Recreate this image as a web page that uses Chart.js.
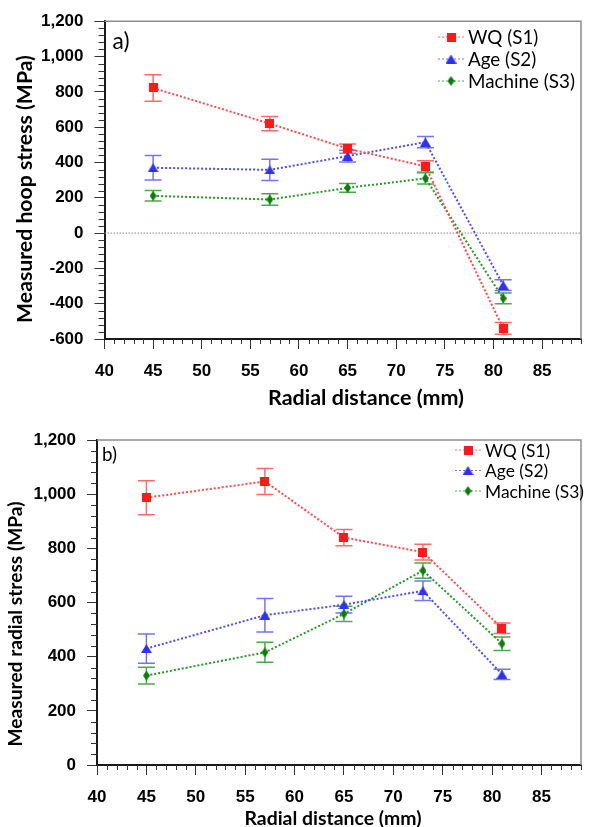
<!DOCTYPE html>
<html>
<head>
<meta charset="utf-8">
<script src="https://cdn.jsdelivr.net/npm/chart.js@4.4.0/dist/chart.umd.min.js"></script>
<style>
  body { margin: 0; background: #fff; }
  canvas { display: block; }
</style>
</head>
<body>
<canvas id="hoopChart" width="589" height="410"></canvas>
<canvas id="radialChart" width="589" height="417"></canvas>
<script>
// radial positions of the measurements (mm)
var radialDistance = [45, 57, 65, 73, 81];

// a) hoop stress (MPa) and error half-widths
var wqHoop = [822, 620, 478, 378, -540];
var wqHoopErr = [75, 40, 26, 32, 33];
var ageHoop = [370, 358, 436, 515, -295];
var ageHoopErr = [70, 60, 33, 32, 30];
var machineHoop = [211, 190, 256, 310, -370];
var machineHoopErr = [30, 32, 25, 32, 30];

// b) radial stress (MPa) and error half-widths
var wqRadial = [987, 1047, 840, 786, 505];
var wqRadialErr = [63, 48, 30, 29, 19];
var ageRadial = [430, 553, 592, 643, 335];
var ageRadialErr = [54, 62, 31, 36, 19];
var machineRadial = [330, 416, 558, 718, 448];
var machineRadialErr = [31, 37, 28, 28, 25];

var seriesNames = ['WQ (S1)', 'Age (S2)', 'Machine (S3)'];

var tickFont = "'Liberation Sans', Arial, sans-serif";
var titleFont = "Lato, 'Open Sans', sans-serif";

// font size that makes a text take a given width
var measureCtx = document.createElement('canvas').getContext('2d');
function fitSize(text, weight, width) {
  measureCtx.font = weight + ' 100px ' + titleFont;
  return 100 * width / measureCtx.measureText(text).width;
}

function makeMarker(kind, fill) {
  var c = document.createElement('canvas');
  var w = 9, h = 9;
  if (kind === 'tri') { w = 11; h = 9; }
  if (kind === 'diamond') { w = 7; h = 10; }
  c.width = w; c.height = h;
  var g = c.getContext('2d');
  g.fillStyle = fill;
  g.beginPath();
  if (kind === 'square') {
    g.rect(0, 0, w, h);
  } else if (kind === 'tri') {
    g.moveTo(w / 2, 0); g.lineTo(w, h); g.lineTo(0, h);
  } else {
    g.moveTo(w / 2, 0); g.lineTo(w, h / 2); g.lineTo(w / 2, h); g.lineTo(0, h / 2);
  }
  g.closePath();
  g.fill();
  return c;
}

var styles = [
  { line: '#ff4a4a', err: '#ff6b6b', marker: makeMarker('square', '#ff1a1a') },
  { line: '#4d4dff', err: '#7373ff', marker: makeMarker('tri', '#2f2fff') },
  { line: '#229a22', err: '#4fa84f', marker: makeMarker('diamond', '#0b7d0b') }
];

function makeDataset(i, values, errors) {
  return {
    label: seriesNames[i],
    data: radialDistance.map(function(x, k) { return { x: x, y: values[k] }; }),
    errors: errors,
    errColor: styles[i].err,
    borderColor: styles[i].line,
    backgroundColor: styles[i].line,
    borderWidth: 2,
    borderDash: [2, 2],
    pointStyle: styles[i].marker,
    pointRadius: 6,
    fill: false,
    tension: 0
  };
}

var errorBars = {
  id: 'errorBars',
  beforeDatasetsDraw: function(chart) {
    var ctx = chart.ctx, xs = chart.scales.x, ys = chart.scales.y;
    var area = chart.chartArea;
    ctx.save();
    // top and right frame
    ctx.strokeStyle = '#8c8c8c';
    ctx.lineWidth = 1.5;
    ctx.beginPath();
    ctx.moveTo(area.left, area.top); ctx.lineTo(area.right, area.top); ctx.lineTo(area.right, area.bottom);
    ctx.stroke();
    // zero line
    if (ys.min < 0) {
      var zy = ys.getPixelForValue(0);
      ctx.strokeStyle = '#8a8a8a';
      ctx.lineWidth = 1;
      ctx.setLineDash([1.5, 1.5]);
      ctx.beginPath();
      ctx.moveTo(area.left, zy); ctx.lineTo(area.right, zy);
      ctx.stroke();
      ctx.setLineDash([]);
    }
    chart.data.datasets.forEach(function(ds) {
      ctx.strokeStyle = ds.errColor;
      ctx.lineWidth = 1.5;
      ds.data.forEach(function(p, k) {
        var px = xs.getPixelForValue(p.x);
        var hi = ys.getPixelForValue(p.y + ds.errors[k]);
        var lo = ys.getPixelForValue(p.y - ds.errors[k]);
        ctx.beginPath();
        ctx.moveTo(px, hi); ctx.lineTo(px, lo);
        ctx.moveTo(px - 8.5, hi); ctx.lineTo(px + 8.5, hi);
        ctx.moveTo(px - 8.5, lo); ctx.lineTo(px + 8.5, lo);
        ctx.stroke();
      });
    });
    ctx.restore();
  }
};

var decorations = {
  id: 'decorations',
  afterDraw: function(chart, args, opts) {
    var ctx = chart.ctx, xs = chart.scales.x, ys = chart.scales.y;
    var area = chart.chartArea;
    ctx.save();
    // minor ticks
    ctx.strokeStyle = '#333';
    ctx.lineWidth = 1;
    ctx.beginPath();
    for (var v = xs.min; v <= xs.max; v += 1) {
      if (v % 5 === 0) continue;
      var px = Math.round(xs.getPixelForValue(v)) + 0.5;
      ctx.moveTo(px, area.bottom); ctx.lineTo(px, area.bottom + 5);
    }
    for (var w = ys.min; w <= ys.max; w += 40) {
      if (w % 200 === 0) continue;
      var py = Math.round(ys.getPixelForValue(w)) + 0.5;
      ctx.moveTo(area.left, py); ctx.lineTo(area.left - 6, py);
    }
    ctx.stroke();

    ctx.fillStyle = '#000';
    ctx.textBaseline = 'middle';

    // axis titles
    ctx.textAlign = 'center';
    ctx.font = 'bold ' + fitSize(opts.xTitle.text, 'bold', opts.xTitle.len).toFixed(2) + 'px ' + titleFont;
    ctx.fillText(opts.xTitle.text, opts.xTitle.cx, opts.xTitle.cy);
    ctx.save();
    ctx.translate(opts.yTitle.cx, opts.yTitle.cy);
    ctx.rotate(-Math.PI / 2);
    ctx.font = 'bold ' + fitSize(opts.yTitle.text, 'bold', opts.yTitle.len).toFixed(2) + 'px ' + titleFont;
    ctx.fillText(opts.yTitle.text, 0, 0);
    ctx.restore();

    // panel label
    ctx.textAlign = 'left';
    ctx.font = fitSize(opts.panel, 'normal', opts.panelWidth).toFixed(2) + 'px ' + titleFont;
    ctx.fillText(opts.panel, area.left + opts.panelDx, area.top + opts.panelDy);

    // legend
    ctx.font = fitSize('Machine (S3)', 'normal', opts.legendWidth).toFixed(2) + 'px ' + titleFont;
    chart.data.datasets.forEach(function(ds, i) {
      var y = opts.legendY + i * opts.legendGap;
      var x0 = opts.legendX;
      ctx.strokeStyle = ds.errColor;
      ctx.lineWidth = 1;
      ctx.setLineDash([2, 2]);
      ctx.beginPath();
      ctx.moveTo(x0, y); ctx.lineTo(x0 + 26, y);
      ctx.stroke();
      ctx.setLineDash([]);
      var m = ds.pointStyle;
      ctx.drawImage(m, x0 + 13 - m.width / 2, y - m.height / 2);
      ctx.fillStyle = '#000';
      ctx.fillText(ds.label, x0 + 30, y + 1);
    });
    ctx.restore();
  }
};

function makeScales(yMin, yMax, s) {
  return {
    x: {
      type: 'linear',
      min: 40,
      max: 89,
      ticks: {
        stepSize: 5,
        includeBounds: false,
        maxRotation: 0,
        color: '#000',
        padding: 12,
        font: { family: tickFont, size: 17, weight: 'bold' }
      },
      grid: { drawOnChartArea: false, tickLength: 10, color: '#333' },
      border: { color: '#1a1a1a', width: 2 },
      afterFit: function(scale) { scale.height = s.xHeight; }
    },
    y: {
      type: 'linear',
      min: yMin,
      max: yMax,
      ticks: {
        stepSize: 200,
        includeBounds: false,
        color: '#000',
        padding: 11,
        font: { family: tickFont, size: 17, weight: 'bold' },
        callback: function(value) { return value.toLocaleString('en-US'); }
      },
      grid: { drawOnChartArea: false, tickLength: 10, color: '#333' },
      border: { color: '#1a1a1a', width: 2 },
      afterFit: function(scale) { scale.width = s.yWidth; }
    }
  };
}

new Chart(document.getElementById('hoopChart'), {
  type: 'line',
  data: {
    datasets: [
      makeDataset(0, wqHoop, wqHoopErr),
      makeDataset(1, ageHoop, ageHoopErr),
      makeDataset(2, machineHoop, machineHoopErr)
    ]
  },
  options: {
    responsive: false,
    animation: false,
    devicePixelRatio: 1,
    layout: { padding: { top: 21, right: 6, left: 0, bottom: 0 } },
    plugins: {
      legend: { display: false },
      tooltip: { enabled: false },
      decorations: {
        xTitle: { text: 'Radial distance (mm)', cx: 366, cy: 398, len: 196 },
        yTitle: { text: 'Measured hoop stress (MPa)', cx: 25, cy: 189, len: 268 },
        panel: 'a)', panelDx: 8, panelDy: 20, panelWidth: 17,
        legendX: 438, legendY: 37, legendGap: 22, legendWidth: 107
      }
    },
    scales: makeScales(-600, 1200, { xHeight: 71, yWidth: 104.5 })
  },
  plugins: [errorBars, decorations]
});

new Chart(document.getElementById('radialChart'), {
  type: 'line',
  data: {
    datasets: [
      makeDataset(0, wqRadial, wqRadialErr),
      makeDataset(1, ageRadial, ageRadialErr),
      makeDataset(2, machineRadial, machineRadialErr)
    ]
  },
  options: {
    responsive: false,
    animation: false,
    devicePixelRatio: 1,
    layout: { padding: { top: 30, right: 3, left: 0, bottom: 0 } },
    plugins: {
      legend: { display: false },
      tooltip: { enabled: false },
      decorations: {
        xTitle: { text: 'Radial distance (mm)', cx: 333, cy: 409, len: 177 },
        yTitle: { text: 'Measured radial stress (MPa)', cx: 16, cy: 214, len: 245 },
        panel: 'b)', panelDx: 5, panelDy: 15, panelWidth: 15,
        legendX: 455, legendY: 40, legendGap: 20.5, legendWidth: 99
      }
    },
    scales: makeScales(0, 1200, { xHeight: 62, yWidth: 97 })
  },
  plugins: [errorBars, decorations]
});
</script>
</body>
</html>
